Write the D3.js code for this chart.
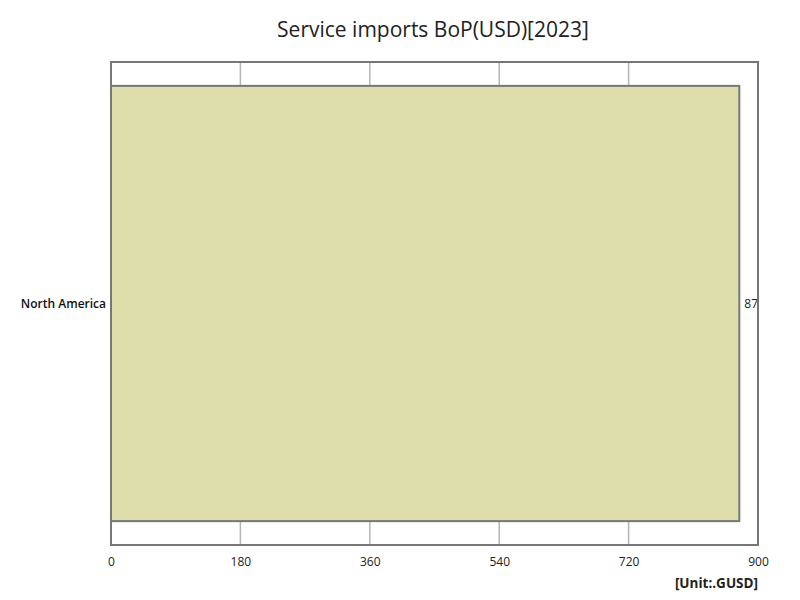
<!DOCTYPE html>
<html>
<head>
<meta charset="utf-8">
<script src="https://cdn.jsdelivr.net/npm/d3@7"></script>
<style>
  body { margin: 0; background: #fff; }
  text { font-family: "Open Sans", "Noto Sans", sans-serif; }
</style>
</head>
<body>
<script>
// chart data
const categories = ["North America"];
const values = [874];
const tickValues = [0, 180, 360, 540, 720, 900];
const title = "Service imports BoP(USD)[2023]";
const unitLabel = "[Unit:.GUSD]";

const width = 800, height = 600;
const margin = { top: 62, right: 42, bottom: 55, left: 111 };
const innerW = width - margin.left - margin.right;
const innerH = height - margin.top - margin.bottom;

const svg = d3.select("body").append("svg")
    .attr("width", width)
    .attr("height", height);

// title
svg.append("text")
    .attr("x", width / 2 + 33)
    .attr("y", 37)
    .attr("text-anchor", "middle")
    .attr("font-size", 21)
    .attr("fill", "#222")
    .text(title);

const x = d3.scaleLinear().domain([0, 900]).range([0, innerW]);
const y = d3.scaleBand().domain(categories).range([0, innerH]).padding(0.052);

const g = svg.append("g")
    .attr("transform", "translate(" + margin.left + "," + margin.top + ")");

g.append("clipPath").attr("id", "plotclip")
    .append("rect").attr("width", innerW).attr("height", innerH);

// grid lines
g.selectAll(".grid")
    .data(tickValues.slice(1, -1))
    .enter().append("line")
    .attr("class", "grid")
    .attr("x1", d => x(d)).attr("x2", d => x(d))
    .attr("y1", 0).attr("y2", innerH)
    .attr("stroke", "#b4b4b4")
    .attr("stroke-width", 1.5);

// bars
g.selectAll(".bar")
    .data(values)
    .enter().append("rect")
    .attr("class", "bar")
    .attr("x", x(0))
    .attr("y", (d, i) => y(categories[i]))
    .attr("width", d => x(d) - x(0))
    .attr("height", y.bandwidth())
    .attr("fill", "#dedead")
    .attr("stroke", "#777")
    .attr("stroke-width", 2);

// value labels (clipped at the frame like the original)
g.append("g").attr("clip-path", "url(#plotclip)")
    .selectAll(".val")
    .data(values)
    .enter().append("text")
    .attr("class", "val")
    .attr("x", d => x(d) + 5)
    .attr("y", (d, i) => y(categories[i]) + y.bandwidth() / 2)
    .attr("dy", "0.35em")
    .attr("font-size", 12)
    .attr("fill", "#222")
    .text(d => d.toFixed(1));

// category labels
g.selectAll(".cat")
    .data(categories)
    .enter().append("text")
    .attr("class", "cat")
    .attr("x", -5)
    .attr("y", d => y(d) + y.bandwidth() / 2)
    .attr("dy", "0.35em")
    .attr("text-anchor", "end")
    .attr("font-size", 12)
    .attr("font-weight", 600)
    .attr("fill", "#111")
    .text(d => d);

// frame
g.append("rect")
    .attr("width", innerW)
    .attr("height", innerH)
    .attr("fill", "none")
    .attr("stroke", "#777")
    .attr("stroke-width", 2);

// x axis tick labels
const xAxis = d3.axisBottom(x).tickValues(tickValues).tickSize(0).tickPadding(12);
g.append("g")
    .attr("transform", "translate(0," + innerH + ")")
    .call(xAxis)
    .call(a => a.select(".domain").remove())
    .call(a => a.selectAll("text").attr("font-size", 12).attr("fill", "#222")
        .attr("font-family", "'Open Sans', 'Noto Sans', sans-serif"));

// unit label
svg.append("text")
    .attr("x", margin.left + innerW)
    .attr("y", 588)
    .attr("text-anchor", "end")
    .attr("font-size", 13.5)
    .attr("font-weight", "bold")
    .attr("fill", "#222")
    .text(unitLabel);
</script>
</body>
</html>
